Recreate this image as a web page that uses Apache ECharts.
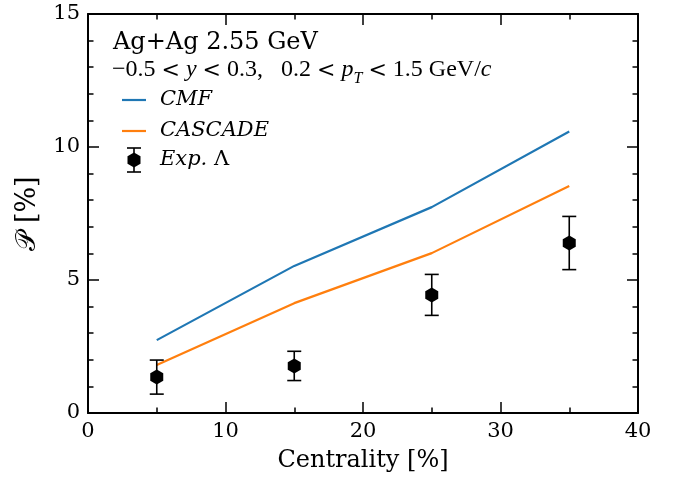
<!DOCTYPE html>
<html><head><meta charset="utf-8">
<script src="https://cdn.jsdelivr.net/npm/echarts@6/dist/echarts.min.js"></script>
<style>html,body{margin:0;padding:0;background:#fff}#c{width:678px;height:479px}</style>
</head><body><div id="c"></div>
<script>
const centrality = [5, 15, 25, 35];
const cmf = [2.74, 5.53, 7.74, 10.58];
const cascade = [1.80, 4.13, 6.01, 8.53];
const expVal = [1.35, 1.77, 4.44, 6.39];
const expErr = [0.64, 0.55, 0.77, 1.00];
const xRange = [0, 40];
const yRange = [0, 15];
const seriesNames = ['CMF', 'CASCADE', 'Exp. \u039b'];

const SERIF = 'DejaVu Serif';
const MATH = 'Liberation Serif';
const HEX = 'path://M0,-1 L0.866,-0.5 L0.866,0.5 L0,1 L-0.866,0.5 L-0.866,-0.5 Z';
const chart = echarts.init(document.getElementById('c'), null, {renderer: 'canvas'});

function makeAxis(extra, showLabel, minorSplit) {
  return Object.assign({
    type: 'value',
    axisLine: {show: true, onZero: false, lineStyle: {color: '#000', width: 2}},
    axisTick: {show: true, inside: true, length: 11, lineStyle: {color: '#000', width: 1.5}},
    minorTick: {show: true, splitNumber: minorSplit, length: 5.5, lineStyle: {color: '#000', width: 1.5}},
    splitLine: {show: false},
    minorSplitLine: {show: false},
    axisLabel: {show: showLabel, fontFamily: SERIF, fontSize: 21, color: '#000', margin: 8}
  }, extra);
}

const errData = centrality.map((x, i) => [x, expVal[i] - expErr[i], expVal[i] + expErr[i]]);

const option = {
  backgroundColor: '#fff',
  animation: false,
  grid: {left: 88, right: 40, top: 14, bottom: 66},
  xAxis: [
    makeAxis({min: xRange[0], max: xRange[1], interval: 10, position: 'bottom',
      name: 'Centrality [%]', nameLocation: 'middle', nameGap: 36,
      nameTextStyle: {fontFamily: SERIF, fontSize: 24, color: '#000'}}, true, 2),
    makeAxis({min: xRange[0], max: xRange[1], interval: 10, position: 'top'}, false, 2)
  ],
  yAxis: [
    makeAxis({min: yRange[0], max: yRange[1], interval: 5, position: 'left',
      name: '\u{1D4AB} [%]', nameLocation: 'middle', nameGap: 47, nameRotate: 90,
      nameTextStyle: {fontFamily: SERIF, fontSize: 27, color: '#000'}}, true, 5),
    makeAxis({min: yRange[0], max: yRange[1], interval: 5, position: 'right'}, false, 5)
  ],
  series: [
    {name: seriesNames[0], type: 'line', data: centrality.map((x, i) => [x, cmf[i]]),
     showSymbol: false, lineStyle: {color: '#1f77b4', width: 2.2}, z: 2},
    {name: seriesNames[1], type: 'line', data: centrality.map((x, i) => [x, cascade[i]]),
     showSymbol: false, lineStyle: {color: '#ff7f0e', width: 2.2}, z: 2},
    {name: seriesNames[2] + ' err', type: 'custom', data: errData, z: 3,
     renderItem: function (params, api) {
       const x = api.value(0);
       const lo = api.coord([x, api.value(1)]);
       const hi = api.coord([x, api.value(2)]);
       const cap = 7;
       const st = {stroke: '#000', lineWidth: 1.6};
       return {type: 'group', children: [
         {type: 'line', shape: {x1: lo[0], y1: lo[1], x2: hi[0], y2: hi[1]}, style: st},
         {type: 'line', shape: {x1: lo[0] - cap, y1: lo[1], x2: lo[0] + cap, y2: lo[1]}, style: st},
         {type: 'line', shape: {x1: hi[0] - cap, y1: hi[1], x2: hi[0] + cap, y2: hi[1]}, style: st}
       ]};
     }},
    {name: seriesNames[2], type: 'scatter', data: centrality.map((x, i) => [x, expVal[i]]),
     symbol: HEX, symbolSize: [13, 15], itemStyle: {color: '#000', opacity: 1}, z: 4}
  ],
  graphic: [
    {type: 'text', left: 113, top: 31, style: {text: 'Ag+Ag 2.55 GeV', font: '24px "DejaVu Serif"', fill: '#000'}},
    {type: 'text', left: 112, top: 58, style: {
      text: '{n|\u22120.5}{r|<}{i|y}{r|<}{n|0.3,   0.2}{r|<}{i|p}{s|T}{r|<}{n|1.5 GeV/}{i|c}',
      rich: {
        n: {fontFamily: MATH, fontSize: 24, fill: '#000', verticalAlign: 'bottom', lineHeight: 24},
        r: {fontFamily: SERIF, fontSize: 22, fill: '#000', verticalAlign: 'bottom', lineHeight: 24, padding: [0, 6, 0, 6]},
        i: {fontFamily: MATH, fontStyle: 'italic', fontSize: 24, fill: '#000', verticalAlign: 'bottom', lineHeight: 24},
        s: {fontFamily: MATH, fontStyle: 'italic', fontSize: 16, fill: '#000', verticalAlign: 'bottom', lineHeight: 14, padding: [0, 0, -5, 0]}
      }}},
    {type: 'line', shape: {x1: 122, y1: 100, x2: 146, y2: 100}, style: {stroke: '#1f77b4', lineWidth: 2.2}},
    {type: 'text', left: 160, top: 89, style: {text: seriesNames[0], font: 'italic 21px "DejaVu Serif"', fill: '#000'}},
    {type: 'line', shape: {x1: 122, y1: 131, x2: 146, y2: 131}, style: {stroke: '#ff7f0e', lineWidth: 2.2}},
    {type: 'text', left: 160, top: 120, style: {text: seriesNames[1], font: 'italic 21px "DejaVu Serif"', fill: '#000'}},
    {type: 'line', shape: {x1: 134, y1: 148, x2: 134, y2: 172}, style: {stroke: '#000', lineWidth: 1.6}},
    {type: 'line', shape: {x1: 127, y1: 148, x2: 141, y2: 148}, style: {stroke: '#000', lineWidth: 1.6}},
    {type: 'line', shape: {x1: 127, y1: 172, x2: 141, y2: 172}, style: {stroke: '#000', lineWidth: 1.6}},
    {type: 'polygon', shape: {points: [[134, 152.5], [140.5, 156.25], [140.5, 163.75], [134, 167.5], [127.5, 163.75], [127.5, 156.25]]}, style: {fill: '#000'}},
    {type: 'text', left: 160, top: 149, style: {
      text: '{i|Exp. }{u|\u039b}',
      rich: {
        i: {fontFamily: SERIF, fontStyle: 'italic', fontSize: 21, fill: '#000'},
        u: {fontFamily: SERIF, fontSize: 21, fill: '#000'}
      }}}
  ]
};
chart.setOption(option);
</script>
</body></html>
